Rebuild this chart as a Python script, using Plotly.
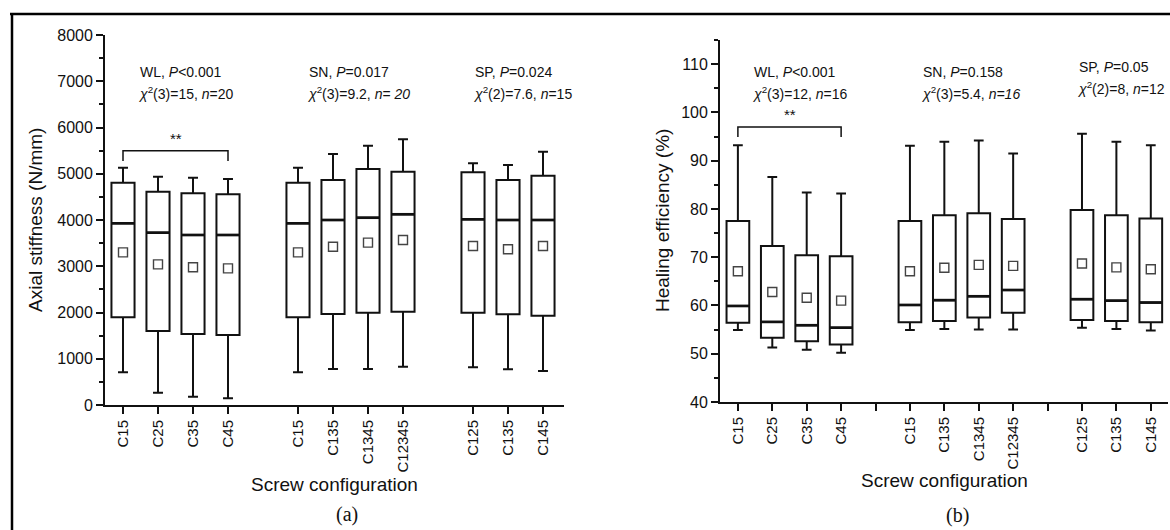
import plotly.graph_objects as go

W, H = 1170, 530

# ---------------- data ----------------
group_sizes = [4, 4, 3]
categories = ["C15", "C25", "C35", "C45", "C15", "C135", "C1345", "C12345", "C125", "C135", "C145"]

# (a) Axial stiffness (N/mm)
stiff_upper = [5130, 4937, 4915, 4886, 5130, 5427, 5607, 5744, 5225, 5189, 5477]
stiff_q3 = [4807, 4613, 4577, 4555, 4807, 4865, 5103, 5045, 5030, 4865, 4958]
stiff_median = [3928, 3726, 3676, 3676, 3928, 4000, 4050, 4123, 4014, 4000, 4000]
stiff_mean = [3300, 3040, 2977, 2955, 3300, 3423, 3510, 3568, 3438, 3366, 3438]
stiff_q1 = [1896, 1600, 1535, 1513, 1896, 1967, 1996, 2018, 1996, 1960, 1931]
stiff_lower = [707, 266, 180, 144, 707, 778, 778, 829, 814, 771, 735]
stiff_bracket = [5275, 5500]

# (b) Healing efficiency (%)
heal_upper = [93.2, 86.6, 83.4, 83.2, 93.1, 93.9, 94.2, 91.5, 95.6, 93.9, 93.2]
heal_q3 = [77.5, 72.3, 70.4, 70.2, 77.5, 78.7, 79.1, 77.9, 79.8, 78.7, 78.0]
heal_median = [59.9, 56.6, 55.9, 55.4, 60.1, 61.1, 61.9, 63.2, 61.3, 61.0, 60.6]
heal_mean = [67.1, 62.8, 61.6, 61.0, 67.1, 67.8, 68.4, 68.2, 68.7, 67.9, 67.5]
heal_q1 = [56.4, 53.3, 52.6, 51.9, 56.5, 56.8, 57.5, 58.5, 57.0, 56.8, 56.5]
heal_lower = [54.9, 51.3, 50.8, 50.2, 54.9, 55.1, 55.0, 55.0, 55.4, 55.1, 54.8]
heal_bracket = [94.9, 97.0]

stats_a = [
    ["WL, <i>P</i>&lt;0.001", "<i>χ</i><sup>2</sup>(3)=15, <i>n</i>=20"],
    ["SN, <i>P</i>=0.017", "<i>χ</i><sup>2</sup>(3)=9.2, <i>n</i>= <i>20</i>"],
    ["SP, <i>P</i>=0.024", "<i>χ</i><sup>2</sup>(2)=7.6, <i>n</i>=15"],
]
stats_b = [
    ["WL, <i>P</i>&lt;0.001", "<i>χ</i><sup>2</sup>(3)=12, <i>n</i>=16"],
    ["SN, <i>P</i>=0.158", "<i>χ</i><sup>2</sup>(3)=5.4, <i>n=16</i>"],
    ["SP, <i>P</i>=0.05", "<i>χ</i><sup>2</sup>(2)=8, <i>n</i>=12"],
]

# slot positions (one empty slot between groups)
pos = []
gap_slots = []
p = 1
for gi, g in enumerate(group_sizes):
    for _ in range(g):
        pos.append(p)
        p += 1
    if gi < len(group_sizes) - 1:
        gap_slots.append(p)
        p += 1

FONT = "Liberation Sans, Arial, sans-serif"
SERIF = "Liberation Serif, Times New Roman, serif"
BLACK = "#111111"


def px(x):
    return x / W


def py(y):
    return 1 - y / H


fig = go.Figure()

BOX_W = 0.66


def add_panel(xa, ya, upper, q3, med, mean, q1, lower, slot_px):
    fig.add_trace(go.Box(
        x=pos, q1=q1, median=med, q3=q3, lowerfence=lower, upperfence=upper,
        xaxis=xa, yaxis=ya, width=BOX_W, whiskerwidth=0.43,
        fillcolor="white", line=dict(color=BLACK, width=2),
        boxpoints=False, hoverinfo="skip", showlegend=False,
    ))
    fig.add_trace(go.Scatter(
        x=pos, y=med, mode="markers", xaxis=xa, yaxis=ya,
        marker=dict(symbol="line-ew", size=BOX_W * slot_px / 1.4,
                    line=dict(color=BLACK, width=2.7)),
        hoverinfo="skip", showlegend=False,
    ))
    fig.add_trace(go.Scatter(
        x=pos, y=mean, mode="markers", xaxis=xa, yaxis=ya,
        marker=dict(symbol="square-open", size=9, color="#444444", line=dict(width=1.4)),
        hoverinfo="skip", showlegend=False,
    ))


add_panel("x", "y", stiff_upper, stiff_q3, stiff_median, stiff_mean, stiff_q1, stiff_lower, 35)
add_panel("x2", "y2", heal_upper, heal_q3, heal_median, heal_mean, heal_q1, heal_lower, 34.4)

axis_common = dict(
    showline=True, linecolor=BLACK, linewidth=1.9, ticks="outside", ticklen=7,
    tickwidth=1.8, tickcolor=BLACK, showgrid=False, zeroline=False, mirror=False,
    automargin=False,
)
xfont = dict(family=FONT, size=15, color=BLACK)
yfont = dict(family=FONT, size=16, color=BLACK)

# panel (a) geometry (pixels)
ax_l, ax_r, ax_b, ax_t = 105, 564, 405, 35
# panel (b) geometry (pixels)
bx_l, bx_r, bx_b, bx_t = 720, 1168, 402, 40

fig.update_layout(
    template="none",
    width=W, height=H, margin=dict(l=0, r=0, t=0, b=0, pad=0, autoexpand=False),
    paper_bgcolor="white", plot_bgcolor="white", showlegend=False,
    font=dict(family=FONT, color=BLACK),
    xaxis=dict(domain=[px(ax_l), px(ax_r)], range=[1 - 18 / 35, 1 + (ax_r - 123) / 35],
               tickvals=pos, ticktext=categories, tickangle=-90, anchor="y",
               tickfont=xfont, **axis_common),
    yaxis=dict(domain=[py(ax_b), py(ax_t)], range=[0, 8000], dtick=1000, anchor="x",
               minor=dict(dtick=500, ticks="outside", ticklen=4, tickwidth=1.5, tickcolor=BLACK),
               tickfont=yfont, **axis_common),
    xaxis2=dict(domain=[px(bx_l), px(bx_r)], range=[0.48, 13.5],
                tickvals=pos, ticktext=categories, tickangle=-90, anchor="y2",
                minor=dict(tickvals=gap_slots, ticks="outside", ticklen=7, tickwidth=1.8,
                           tickcolor=BLACK),
                tickfont=xfont, **axis_common),
    yaxis2=dict(domain=[py(bx_b), py(bx_t)], range=[40, 115], dtick=10, anchor="x2",
                minor=dict(dtick=5, ticks="outside", ticklen=4, tickwidth=1.5, tickcolor=BLACK),
                tickfont=yfont, **axis_common),
)

shapes = []
# significance brackets
for xr, yr, br in [("x", "y", stiff_bracket), ("x2", "y2", heal_bracket)]:
    lo, hi = br
    shapes.append(dict(type="path", xref=xr, yref=yr,
                       path=f"M {pos[0]},{lo} L {pos[0]},{hi} L {pos[3]},{hi} L {pos[3]},{lo}",
                       line=dict(color=BLACK, width=1.5)))
# outer frame (top and left rules)
shapes.append(dict(type="line", xref="paper", yref="paper", x0=px(10), x1=1, y0=py(14), y1=py(14),
                   line=dict(color="black", width=2.5)))
shapes.append(dict(type="line", xref="paper", yref="paper", x0=px(12), x1=px(12), y0=0, y1=py(14),
                   line=dict(color="black", width=2.5)))
fig.update_layout(shapes=shapes)

ann = []
# stars
for xr, yr, br in [("x", "y", stiff_bracket), ("x2", "y2", heal_bracket)]:
    ann.append(dict(x=(pos[0] + pos[3]) / 2, y=br[1], xref=xr, yref=yr, text="**",
                    showarrow=False, xanchor="center", yanchor="bottom", yshift=2,
                    font=dict(size=15, family=FONT)))

# stats text
for lefts, ys, stats in [([138, 307, 473], [72, 72, 72], stats_a),
                         ([752, 921, 1077], [72, 72, 67], stats_b)]:
    for xl, y1, (t1, t2) in zip(lefts, ys, stats):
        ann.append(dict(x=px(xl), y=py(y1), xref="paper", yref="paper", text=t1, showarrow=False,
                        xanchor="left", yanchor="middle", font=dict(size=14, family=FONT)))
        ann.append(dict(x=px(xl - 2), y=py(y1 + 10), xref="paper", yref="paper", text=t2,
                        showarrow=False, xanchor="left", yanchor="top",
                        font=dict(size=14, family=FONT)))


def centered(x, y, text, size, family=FONT, angle=0):
    ann.append(dict(x=px(x), y=py(y), xref="paper", yref="paper", text=text, showarrow=False,
                    xanchor="center", yanchor="middle", textangle=angle,
                    font=dict(size=size, family=family)))


# axis titles
centered(35, (ax_t + ax_b) / 2, "Axial stiffness (N/mm)", 19, angle=-90)
centered(662, (bx_t + bx_b) / 2, "Healing efficiency (%)", 19, angle=-90)
centered((ax_l + ax_r) / 2, 484, "Screw configuration", 19)
centered((bx_l + bx_r) / 2, 480, "Screw configuration", 19)
# panel labels
centered(347, 514, "(a)", 20, SERIF)
centered(957, 515, "(b)", 20, SERIF)
fig.update_layout(annotations=ann)

fig.write_html("out.html")
